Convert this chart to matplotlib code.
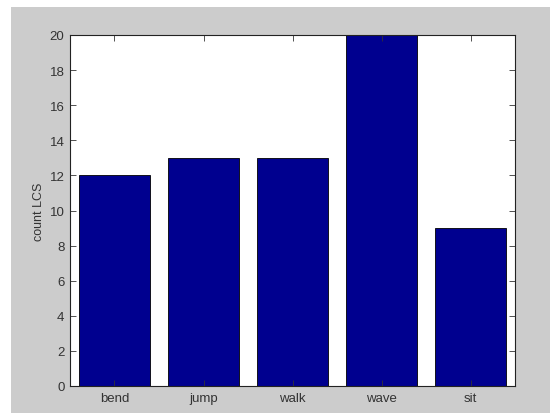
import matplotlib.pyplot as plt
from matplotlib.patches import Rectangle

actions = ['bend', 'jump', 'walk', 'wave', 'sit']
counts = [12, 13, 13, 20, 9]
yticks = [0, 2, 4, 6, 8, 10, 12, 14, 16, 18, 20]

plt.rcParams['font.family'] = ['Liberation Sans', 'DejaVu Sans']

fig = plt.figure(figsize=(5.5, 4.14), dpi=100, facecolor='white')
# grey matlab-style background, white strip top/left
fig.patches.append(Rectangle((11/550, 0), 1, (414-8)/414, transform=fig.transFigure,
                             facecolor='#cccccc', edgecolor='none', zorder=-10))
ax = fig.add_axes([70/550, 1-387/414, 445/550, (387-36)/414])
ax.set_zorder(1)

pos = range(1, len(actions)+1)
ax.bar(pos, counts, width=0.8, color='#00008f', edgecolor='black', linewidth=0.6)
ax.set_xlim(0.5, 5.5)
ax.set_ylim(0, 20)
ax.set_xticks(list(pos))
ax.set_xticklabels(actions)
ax.set_yticks(yticks)
ax.tick_params(direction='in', top=True, right=True, labelsize=9.5, length=4, width=0.6,
               colors='#333333', pad=4)
ax.set_ylabel('count LCS', fontsize=9, color='#333333', labelpad=3)
for s in ax.spines.values():
    s.set_linewidth(0.8)
    s.set_color('#222222')

plt.savefig('out.png', dpi=100, facecolor=fig.get_facecolor())
